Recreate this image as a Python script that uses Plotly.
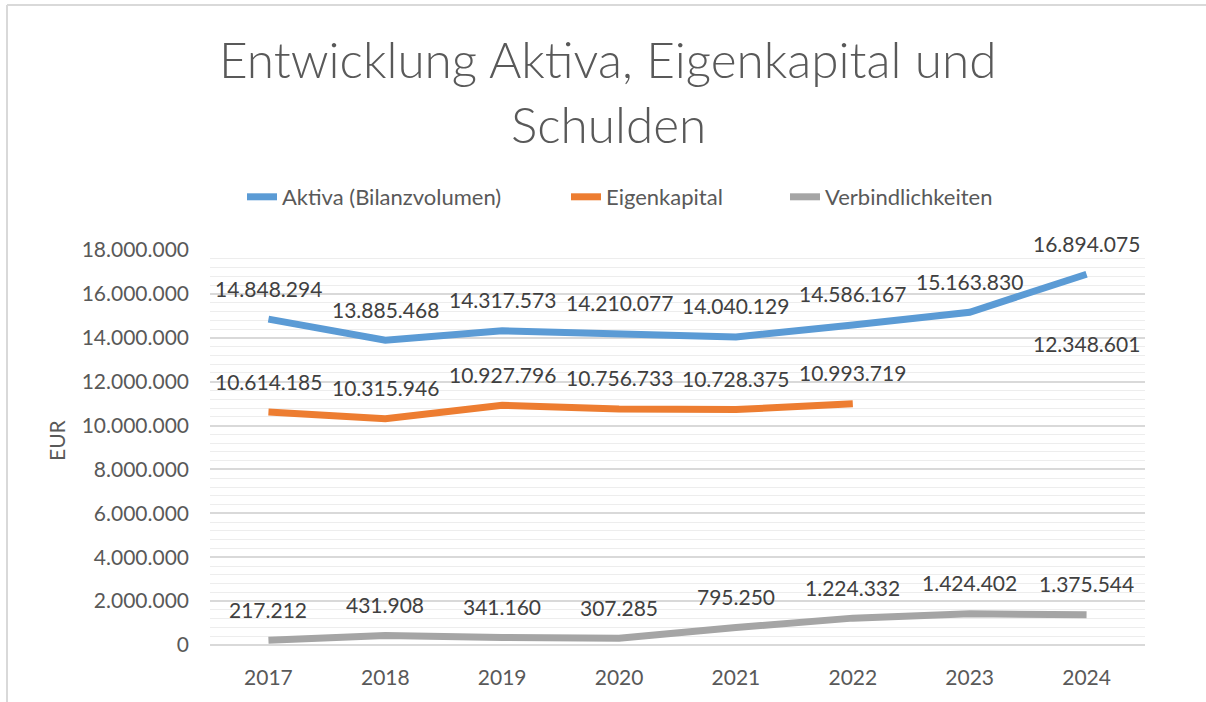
import plotly.graph_objects as go

years = ["2017", "2018", "2019", "2020", "2021", "2022", "2023", "2024"]
aktiva = [14848294, 13885468, 14317573, 14210077, 14040129, 14586167, 15163830, 16894075]
eigenkapital = [10614185, 10315946, 10927796, 10756733, 10728375, 10993719, None, 12348601]
verbindlichkeiten = [217212, 431908, 341160, 307285, 795250, 1224332, 1424402, 1375544]

series = [
    ("Aktiva (Bilanzvolumen)", aktiva, "#5B9BD5"),
    ("Eigenkapital", eigenkapital, "#ED7D31"),
    ("Verbindlichkeiten", verbindlichkeiten, "#A5A5A5"),
]

FONT = "Lato"
TXT = "#595959"

def fmt(v):
    return f"{v:,}".replace(",", ".")

W, H = 1206, 702
L, R, T, B = 210, 61, 250, 57
pw, ph = W - L - R, H - T - B

def px(xp):
    return (xp - L) / pw

def py(yp):
    return (H - B - yp) / ph

legend_ids = ["legend", "legend2", "legend3"]
legend_starts = [242, 566, 785]

fig = go.Figure()
annotations = []
for (name, vals, col), lid in zip(series, legend_ids):
    fig.add_trace(go.Scatter(
        x=years, y=vals, name=name, mode="lines",
        line=dict(color=col, width=7, shape="linear"),
        connectgaps=False, hoverinfo="skip", legend=lid,
    ))
    for i, v in enumerate(vals):
        if v is None:
            continue
        annotations.append(dict(
            x=i, y=v, xref="x", yref="y", text=fmt(v), showarrow=False,
            yshift=31, font=dict(family=FONT, size=21, color="#404040"),
        ))

annotations += [
    dict(text="Entwicklung Aktiva, Eigenkapital und", x=px(608), y=py(59), xref="paper", yref="paper",
         showarrow=False, xanchor="center", yanchor="middle",
         font=dict(family=FONT, size=49.5, color=TXT, weight=300)),
    dict(text="Schulden", x=px(608), y=py(124), xref="paper", yref="paper",
         showarrow=False, xanchor="center", yanchor="middle",
         font=dict(family=FONT, size=49.5, color=TXT, weight=300)),
    dict(text="EUR", x=px(56), y=py(440), xref="paper", yref="paper", textangle=-90,
         showarrow=False, xanchor="center", yanchor="middle",
         font=dict(family=FONT, size=21, color=TXT)),
]

legend_common = dict(orientation="h", yanchor="middle", y=py(197), xanchor="left",
                     font=dict(family=FONT, size=22, color=TXT), bgcolor="rgba(0,0,0,0)")
legends = {lid: dict(legend_common, x=px(xs)) for lid, xs in zip(legend_ids, legend_starts)}

border = dict(color="#D9D9D9", width=2)
fig.update_layout(
    width=W, height=H,
    margin=dict(l=L, r=R, t=T, b=B),
    paper_bgcolor="white", plot_bgcolor="white",
    separators=",.",
    font=dict(family=FONT, size=21, color=TXT),
    showlegend=True,
    annotations=annotations,
    shapes=[
        dict(type="line", xref="paper", yref="paper", x0=px(7), x1=px(1206), y0=py(5), y1=py(5),
             line=border, layer="below"),
        dict(type="line", xref="paper", yref="paper", x0=px(7), x1=px(7), y0=py(5), y1=py(702),
             line=border, layer="below"),
    ],
    **legends,
)

fig.update_xaxes(
    type="category", range=[-0.5, 7.5], showgrid=False, showline=False, zeroline=False,
    ticks="", ticklabelstandoff=18, tickfont=dict(family=FONT, size=21, color=TXT),
)
fig.update_yaxes(
    range=[0, 18000000], dtick=2000000, tickformat=",d",
    showgrid=True, gridcolor="#D9D9D9", gridwidth=1.5,
    zeroline=True, zerolinecolor="#D9D9D9", zerolinewidth=1.5,
    minor=dict(dtick=400000, showgrid=True, gridcolor="#EDEDED", gridwidth=1),
    showline=False, ticks="", ticklabelstandoff=20,
    tickfont=dict(family=FONT, size=21, color=TXT),
)

fig.write_html("out.html", config={"displayModeBar": False},
               post_script="document.body.style.margin='0px';document.body.style.overflow='hidden';"
                           "document.documentElement.style.overflow='hidden';")
